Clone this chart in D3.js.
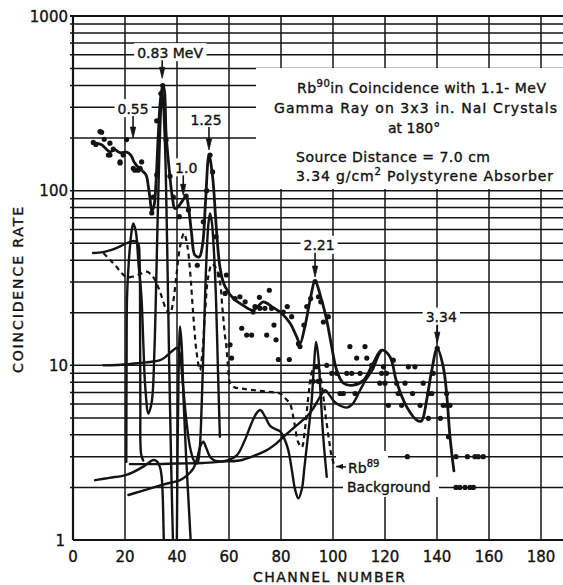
<!DOCTYPE html>
<html>
<head>
<meta charset="utf-8">
<script src="https://cdn.jsdelivr.net/npm/d3@7"></script>
<style>
  body { margin: 0; background: #fff; }
  svg { display: block; }
  text { font-family: "DejaVu Sans", "Liberation Sans", sans-serif; fill: #111; stroke: #111; stroke-width: 0.35; }
</style>
</head>
<body>
<svg id="chart" width="563" height="585"></svg>
<script>
// ---- axis ticks ----
const xTickValues = [0, 20, 40, 60, 80, 100, 120, 140, 160, 180];
const xTickLabels = ["0", "20", "40", "60", "80", "100", "120", "140", "160", "180"];
const yTickValues = [1, 10, 100, 1000];
const yTickLabels = ["1", "10", "100", "1000"];

// ---- measured coincidence rate (channel, rate) ----
const rateDots = [
  [7.8,189],[8.8,184],[10.4,218],[11,216],[12,197],[13.6,160],[14.2,187],[14.2,160],[15.5,173],[18.1,146],
  [18.1,144],[19.3,160],[20.6,196],[23.2,134],[23.8,131],[25.1,131],[25.8,134],[26.4,146],[30.3,74.6],[30.9,92],
  [32.2,123],[32.2,251],[33.8,360],[34.5,400],[35.8,195],[37.3,121],[38.6,92],[40.9,71],[43.5,93],[44.4,77.6],
  [47.8,37.4],[50.1,66.4],[51.4,100],[52.7,160],[53.7,128],[55,54.5],[56.3,32.9],[59,32.9],
  [58.5,25.8],[60.4,13.1],[61,11],[62.3,24.1],[64.2,24.7],[64.9,16.3],[66.2,23.1],[66.8,14.9],[68.7,14.9],[69.3,20.2],
  [70,21.7],[71.7,24.5],[71.9,21.2],[73.8,21.2],[74.5,14.9],[75.5,26.9],[76.4,21.2],[77.3,17],[78.1,14],[79,10.8],
  [80.9,20.2],[82.4,21.7],[83.2,10.8],[84.1,19],[86.7,13.3],[87.3,12.8],[88.8,17],[89.9,21.7],[91.4,24.1],[93.1,30.2],
  [94.4,24.7],[95.3,23.1],[96.3,17.7],[98.2,19],
  [92.4,8.1],[93.7,9.8],[94.3,8.1],[97.6,10],[99.5,9],[101.4,9],[102.7,6.9],[104,6.9],[105.3,9],[106.5,12.8],
  [107.2,9],[108.5,6.9],[109.1,11],[110.4,9],[112.3,12.8],[113,11],[114.9,10],[118,7.9],[118.7,9],[119.4,9.8],
  [120,7.9],[120.6,9],[121.3,5.9],[123.2,10.7],[124.5,7.9],[125.1,6.9],[126.4,5.9],[127.7,7.9],[128.6,3.0],[129,9.8],
  [130.6,6.9],[131.5,9.8],[133.5,5.9],[134.7,7.9],[136.7,6.9],[136.7,4.97],[138,6.9],[138.6,9],[140.1,12.5],[141.3,4.97],
  [142.4,5.9],[143.7,6.9],[143.7,5.9],[144.4,3.9],[145,5.9],
  [147.3,3],[151.7,3],[154.6,3],[155.9,3],[157.8,3],
  [147.3,2],[148.8,2],[150.8,2],[152.7,2],[154,2]
];

// ---- smoothed total spectrum ----
const totalCurve = [
  [9.1,187],[11,183],[12.3,176],[14.2,167],[16.2,171],[18.1,165],[20.6,166],[22.2,160],[23.5,146],[24.7,138],
  [26.4,131],[28.1,123],[29,105],[29.6,91],[30.3,76.5],[31.2,82.6],[31.9,110],[32.7,195],[33.5,316],[34.1,375],
  [34.6,400],[35.2,370],[35.8,212],[36.9,137],[38.2,92],[39.2,79],[40.5,81],[42.2,88],[43.5,93],[44.4,81],
  [45.6,57],[46.9,42.7],[48.6,41.8],[49.9,50],[51,88],[52.3,160],[53.7,120],[55,65],[56.3,38.5],[57.5,31],
  [58.5,28.2],[61.7,24.1],[65.5,22],[69.3,20.7],[73.2,23.1],[76.4,21.7],[80.3,19.8],[83.5,17.4],[86,14.6],[87.3,13.3],
  [89.2,16.7],[91.2,23.7],[93.1,30.2],[95.6,23.7],[97.6,18.1],[99.5,12.8],[101.4,9.4],[104,7.9],[107.8,7.7],[111.7,8.2],
  [115.5,10.3],[118.7,12.2],[121.9,11.2],[124.5,8],[128.3,5.8],[132.2,4.86],[134,4.8],[136,6.3],[138,9.4],[140.1,12.5],
  [142.4,9.8],[143.7,6.9],[145,3.9],[146.5,2.49]
];

// ---- resolved components ----
const peak055and083 = [
  [20.5,2.8],[20.6,10],[20.8,25],[21.5,40],[22.5,58],[23.2,65],[24.2,58],[25.2,38],[26.3,25],[27,14],
  [27.8,7.5],[29,5.3],[30.3,6.2],[31.3,12],[32.2,40],[33.2,160],[34.3,370],[35.3,200],[36.2,50],[37,10],
  [37.8,2.5],[38.6,0.8]
];
const continuum083 = [
  [7.7,44],[11.5,44.5],[14.2,45.5],[17.5,47.5],[20.6,50],[23.3,51.5],[25,50],[25.6,40],[25.8,20],[25.9,6],
  [26.2,3.1],[27,2.85]
];
const component221 = [
  [21.9,2.72],[30,2.72],[40,2.74],[50,2.76],[56,2.8],[60,2.88],[63,3.05],[66,3.7],[68.5,4.6],[70.5,5.3],
  [72,5.55],[73.8,5.1],[75.8,4.5],[78,4.3],[79.6,4.2],[81.3,3.8],[82.8,3.27],[84.2,2.5],[85.4,1.95],[86.7,1.73],
  [88,1.95],[89,2.6],[89.9,3.42],[91,4.8],[91.8,6.3],[92.7,10],[93.5,13.6],[94.4,11],[95.2,7],[96.3,3.8],[97.6,2.3]
];
const componentLowEdge = [
  [8.5,2.2],[14,2.27],[20.6,2.36],[27,2.63],[29.5,2.8],[30.9,2.87],[32.3,2.82],[33.5,2.6],[34.1,2.3],[34.5,1.8],
  [34.8,1.2],[35,0.85]
];
const component334 = [
  [21.3,1.81],[26,1.9],[32,2.02],[37,2.12],[41.2,2.2],[44,2.35],[46.3,2.57],[47.8,2.95],[49,3.45],[50.1,3.65],
  [51.3,3.35],[52.7,3.0],[54.5,2.85],[58,2.82],[64,2.85],[70,3.05],[75,3.3],[78,3.55],[81,3.9],[85,4.4],
  [88,4.8],[90,5.1],[92.5,5.7],[95,6.6],[97,7.2],[98.5,6.8],[100.5,6.2],[103,5.85],[105.3,5.73],[107.5,6.0],
  [110.4,7.2],[112.5,8.2],[115.5,9.6],[117.5,11.4],[118.7,12.2]
];
const peak10 = [
  [39.9,0.8],[40.2,3],[40.6,9],[41.2,16.7],[41.8,13],[42.6,6],[43.5,3],[44.5,1.6],[45.6,0.8]
];
const component125 = [
  [11.7,10],[17,10.05],[22,10.2],[28,10.4],[33.5,10.7],[36,11.3],[38.5,12.2],[40,12.6],[41,11.8],[42.2,8],
  [43.5,5],[45,3.4],[46.5,2.85],[47.8,2.75],[48.7,3.3],[49.5,6],[50.3,14],[51.3,40],[52.1,65],[52.7,74],
  [53.4,66],[54.2,45],[55,24],[55.7,10],[56.2,5.5],[56.5,3.9]
];
const rb89Background = [
  [11.7,44],[14,40.5],[16.2,37.5],[18.5,34],[20.6,32],[23,32.2],[25.5,33.2],[28.3,34.4],[30.5,32.5],[32.2,29.4],
  [34,25],[35.8,21],[37.3,19.8],[38.5,23],[39.8,33],[41.2,48],[42.7,57],[44,48],[45,35],[46.2,20],
  [47.5,12],[48.8,9.4],[49.8,12],[50.8,20],[52,32],[53.5,38],[55,36],[56.5,30],[57.5,21],[58.4,15],
  [59,12.8],[59.7,9.5],[60.4,7.9],[62,7.5],[65,7.35],[70,7.2],[75,7.05],[79.6,6.9],[81.5,6.5],[83.5,6.0],
  [85,4.8],[86.7,3.6],[88,3.4],[89.2,4.3],[90.5,6.6],[91.6,8.8],[92.6,9.8],[94,10],[95.2,8.6],[96.3,6.6],
  [97.3,5.0],[98.5,3.7],[99.5,3.0],[100.8,2.6]
];

// ---- gamma-ray energy markers ----
const peakLabels = ["0.55", "0.83 MeV", "1.0", "1.25", "2.21", "3.34"];
const peakArrowChannel = [23.1, 34.3, 42.4, 52.3, 93.1, 140.1];
const peakArrowTip = [200, 440, 94, 171, 32, 13.4];
const peakLabelRate = [297, 621, 136, 257, 49, 19];

// ---- scales ----
const svg = d3.select("#chart");
const x = d3.scaleLinear().domain([0, 180]).range([73, 541]);
const y = d3.scaleLog().domain([1, 1000]).range([540, 16]);
const plotRight = 563;
const ink = "#141414";

// ---- grid ----
const gridRates = [];
for (const dec of [1, 10, 100]) for (let k = 1; k <= 9; k++) gridRates.push(dec * k);
gridRates.push(1000);

const grid = svg.append("g");
grid.selectAll("line.h").data(gridRates).join("line")
  .attr("class", "h")
  .attr("x1", d => (d === 1 ? x(0) : 70)).attr("x2", plotRight)
  .attr("y1", d => y(d)).attr("y2", d => y(d))
  .attr("stroke", ink).attr("stroke-width", d => (d === 1 || d === 1000 ? 2 : 1.5));
grid.selectAll("line.v").data(xTickValues).join("line")
  .attr("class", "v")
  .attr("x1", d => x(d)).attr("x2", d => x(d))
  .attr("y1", y(1000)).attr("y2", y(1))
  .attr("stroke", ink).attr("stroke-width", d => (d === 0 ? 2.2 : 1.5));

// ---- white panels behind annotation text ----
const blank = svg.append("g").attr("fill", "#fff");
blank.append("rect").attr("x", 256).attr("y", 68).attr("width", plotRight - 256).attr("height", 121);
blank.append("rect").attr("x", 336).attr("y", 451).attr("width", 52).attr("height", 27);
blank.append("rect").attr("x", 343).attr("y", 477).attr("width", 96).attr("height", 20);

// label panels (sized from text after drawing)
const labelLayer = svg.append("g");

// ---- curves ----
svg.append("clipPath").attr("id", "plotClip")
  .append("rect").attr("x", x(0)).attr("y", y(1000)).attr("width", plotRight - x(0)).attr("height", y(1) - y(1000));

const line = d3.line()
  .x(d => x(d[0])).y(d => y(d[1]))
  .curve(d3.curveCatmullRom.alpha(0.5));

const curves = svg.append("g").attr("clip-path", "url(#plotClip)")
  .attr("fill", "none").attr("stroke", ink).attr("stroke-linecap", "round").attr("stroke-linejoin", "round");

[continuum083, component221, componentLowEdge, component334, peak10, component125, peak055and083].forEach(c => {
  curves.append("path").attr("d", line(c)).attr("stroke-width", 2.4);
});
curves.append("path").attr("d", line(rb89Background))
  .attr("stroke-width", 2.2).attr("stroke-dasharray", "5,4").attr("stroke-linecap", "butt");
curves.append("path").attr("d", line(totalCurve)).attr("stroke-width", 2.8);

svg.append("g").attr("clip-path", "url(#plotClip)")
  .selectAll("circle").data(rateDots).join("circle")
  .attr("cx", d => x(d[0])).attr("cy", d => y(d[1])).attr("r", 2.6).attr("fill", ink);

// ---- energy markers: label + downward arrow ----
peakLabels.forEach((lab, i) => {
  const ax = x(peakArrowChannel[i]);
  const ly = y(peakLabelRate[i]);
  const tip = y(peakArrowTip[i]);
  const isMain = i === 1;
  const t = labelLayer.append("text")
    .attr("x", isMain ? ax - 25 : ax + (i === 2 ? 3 : i === 3 ? -3 : i === 5 ? 4 : i === 4 ? 4 : 0))
    .attr("y", ly + 5.5)
    .attr("text-anchor", isMain ? "start" : "middle")
    .attr("font-size", 14)
    .text(lab);
  const bb = t.node().getBBox();
  labelLayer.insert("rect", "text")
    .attr("x", bb.x - 3).attr("y", ly - 9).attr("width", bb.width + 6).attr("height", 18)
    .attr("fill", "#fff").attr("stroke", "none");
  labelLayer.append("line")
    .attr("x1", ax).attr("x2", ax).attr("y1", ly + 8).attr("y2", tip - 6)
    .attr("stroke", ink).attr("stroke-width", 1.6);
  labelLayer.append("path")
    .attr("d", `M${ax - 2.6},${tip - 11}L${ax + 2.6},${tip - 11}L${ax},${tip}Z`)
    .attr("fill", ink).attr("stroke", ink).attr("stroke-width", 0.8);
});

// ---- Rb89 background label ----
const rbLab = svg.append("g");
const rb = rbLab.append("text").attr("x", 348).attr("y", 473).attr("font-size", 14);
rb.append("tspan").text("Rb");
rb.append("tspan").attr("dy", -6).attr("font-size", 10).text("89");
rbLab.append("text").attr("x", 347).attr("y", 492).attr("font-size", 14).text("Background");
rbLab.append("line").attr("x1", 346).attr("x2", 336).attr("y1", 467).attr("y2", 466.5)
  .attr("stroke", ink).attr("stroke-width", 1.4);
rbLab.append("path").attr("d", "M336,466.5L343,463.8L343,469.2Z").attr("fill", ink);

// ---- description block ----
const desc = svg.append("g").attr("font-size", 14);
const l1 = desc.append("text").attr("x", 297).attr("y", 93).attr("textLength", 249).attr("lengthAdjust", "spacing");
l1.append("tspan").text("Rb");
l1.append("tspan").attr("dy", -6).attr("font-size", 10).text("90");
l1.append("tspan").attr("dy", 6).text("in Coincidence with 1.1- MeV");
desc.append("text").attr("x", 274).attr("y", 113).attr("textLength", 283).attr("lengthAdjust", "spacing")
  .text("Gamma Ray on 3x3 in. NaI Crystals");
desc.append("text").attr("x", 388).attr("y", 133).text("at 180°");
desc.append("text").attr("x", 296).attr("y", 162).attr("textLength", 194).attr("lengthAdjust", "spacing")
  .text("Source Distance = 7.0 cm");
const l5 = desc.append("text").attr("x", 296).attr("y", 181).attr("textLength", 257).attr("lengthAdjust", "spacing");
l5.append("tspan").text("3.34 g/cm");
l5.append("tspan").attr("dy", -6).attr("font-size", 10).text("2");
l5.append("tspan").attr("dy", 6).text(" Polystyrene Absorber");

// ---- tick labels ----
svg.append("g").selectAll("text").data(xTickValues).join("text")
  .attr("x", d => x(d)).attr("y", 562)
  .attr("text-anchor", "middle").attr("font-size", 15)
  .text((d, i) => xTickLabels[i]);
svg.append("g").selectAll("text").data(yTickValues).join("text")
  .attr("x", d => (d === 1 ? 65 : 68)).attr("y", d => (d === 1 ? 546 : y(d) + 5.5))
  .attr("text-anchor", "end").attr("font-size", 15)
  .text((d, i) => yTickLabels[i]);

// ---- axis titles ----
svg.append("text").attr("x", 253).attr("y", 582).attr("font-size", 14)
  .attr("textLength", 152).attr("lengthAdjust", "spacing").text("CHANNEL NUMBER");
svg.append("text").attr("transform", "translate(23,373) rotate(-90)").attr("font-size", 14)
  .attr("textLength", 166).attr("lengthAdjust", "spacing").text("COINCIDENCE RATE");
</script>
</body>
</html>
